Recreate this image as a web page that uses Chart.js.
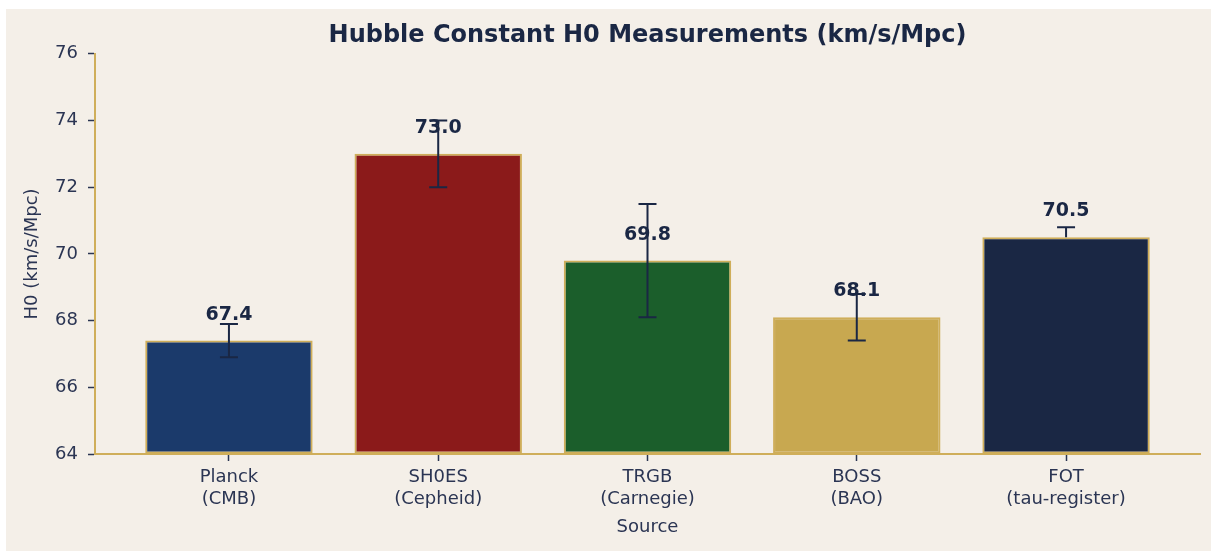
<!DOCTYPE html>
<html>
<head>
<meta charset="utf-8">
<script src="https://cdn.jsdelivr.net/npm/chart.js@4.4.1/dist/chart.umd.min.js"></script>
<style>
  html, body { margin: 0; padding: 0; background: #ffffff; }
  #panel { position: absolute; left: 6px; top: 9px; width: 1205px; height: 542px; background: #f4efe8; }
  canvas { display: block; }
</style>
</head>
<body>
<div id="panel"><canvas id="h0Chart" width="1205" height="542"></canvas></div>
<script>
// data
const sources = [
  ["Planck", "(CMB)"],
  ["SH0ES", "(Cepheid)"],
  ["TRGB", "(Carnegie)"],
  ["BOSS", "(BAO)"],
  ["FOT", "(tau-register)"],
];
const h0Values = [67.4, 73.0, 69.8, 68.1, 70.5];
const errLow = [0.5, 1.0, 1.7, 0.7, 0.0];
const errHigh = [0.5, 1.0, 1.7, 0.7, 0.3];
const yTicks = [64, 66, 68, 70, 72, 74, 76];

// styles
const barColors = ["#1b3a6b", "#8b1a1a", "#1b5e2b", "#c8a850", "#1a2744"];
const gold = "#cfae5a";
const navy = "#1a2744";
const textColor = "#2b3553";
const font = "'DejaVu Sans', sans-serif";

const errorBars = {
  id: "errorBars",
  afterDatasetsDraw(chart) {
    const { ctx, scales } = chart;
    const meta = chart.getDatasetMeta(0);
    ctx.save();
    ctx.strokeStyle = navy;
    ctx.lineWidth = 2;
    meta.data.forEach((bar, i) => {
      const v = h0Values[i];
      const x = bar.x;
      const yTop = scales.y.getPixelForValue(v + errHigh[i]);
      const yBot = scales.y.getPixelForValue(v - errLow[i]);
      ctx.beginPath();
      ctx.moveTo(x, yTop);
      ctx.lineTo(x, yBot);
      if (errHigh[i] > 0) {
        ctx.moveTo(x - 9, yTop);
        ctx.lineTo(x + 9, yTop);
      }
      if (errLow[i] > 0) {
        ctx.moveTo(x - 9, yBot);
        ctx.lineTo(x + 9, yBot);
      }
      ctx.stroke();
    });
    // value labels
    ctx.fillStyle = navy;
    ctx.font = "bold 19px " + font;
    ctx.textAlign = "center";
    ctx.textBaseline = "middle";
    meta.data.forEach((bar, i) => {
      const y = scales.y.getPixelForValue(h0Values[i]);
      ctx.fillText(h0Values[i].toFixed(1), bar.x, y - 26);
    });
    ctx.restore();
  },
};

new Chart(document.getElementById("h0Chart"), {
  type: "bar",
  data: {
    datasets: [
      {
        data: h0Values.map((v, i) => ({ x: i, y: v })),
        base: yTicks[0],
        backgroundColor: barColors,
        borderColor: gold,
        borderWidth: 2,
        borderSkipped: false,
        barPercentage: 0.8,
        categoryPercentage: 1.0,
      },
    ],
  },
  options: {
    responsive: false,
    devicePixelRatio: 1,
    animation: false,
    layout: { padding: { left: 0, right: 11, top: 0, bottom: 0 } },
    plugins: {
      legend: { display: false },
      tooltip: { enabled: false },
      title: {
        display: true,
        fullSize: false,
        text: "Hubble Constant H0 Measurements (km/s/Mpc)",
        color: navy,
        font: { family: font, size: 24, weight: "bold", lineHeight: 1.2 },
        padding: { top: 12, bottom: 4 },
      },
    },
    scales: {
      x: {
        type: "linear",
        offset: false,
        min: -0.64,
        max: sources.length - 1 + 0.64,
        afterBuildTicks: (scale) => {
          scale.ticks = sources.map((s, i) => ({ value: i }));
        },
        afterFit: (scale) => {
          scale.height = 97;
        },
        ticks: {
          color: textColor,
          font: { family: font, size: 18, lineHeight: 1.2 },
          padding: 6,
          maxRotation: 0,
          autoSkip: false,
          callback: (value) => sources[value],
        },
        grid: {
          offset: false,
          drawOnChartArea: false,
          drawTicks: true,
          tickLength: 7,
          tickColor: textColor,
          tickWidth: 1.5,
        },
        border: { color: gold, width: 2 },
        title: {
          display: true,
          text: "Source",
          color: textColor,
          font: { family: font, size: 18, lineHeight: 1.2 },
          padding: { top: 13, bottom: 13 },
        },
      },
      y: {
        min: yTicks[0],
        max: yTicks[yTicks.length - 1],
        afterBuildTicks: (scale) => {
          scale.ticks = yTicks.map((v) => ({ value: v }));
        },
        afterFit: (scale) => {
          scale.width = 89;
        },
        ticks: {
          color: textColor,
          font: { family: font, size: 18 },
          padding: 10,
        },
        grid: {
          drawOnChartArea: false,
          drawTicks: true,
          tickLength: 7,
          tickColor: textColor,
          tickWidth: 1.5,
        },
        border: { color: gold, width: 2 },
        title: {
          display: true,
          text: "H0 (km/s/Mpc)",
          color: textColor,
          font: { family: font, size: 18, lineHeight: 1.2 },
          padding: { top: 16, bottom: 16 },
        },
      },
    },
  },
  plugins: [errorBars],
});
</script>
</body>
</html>
